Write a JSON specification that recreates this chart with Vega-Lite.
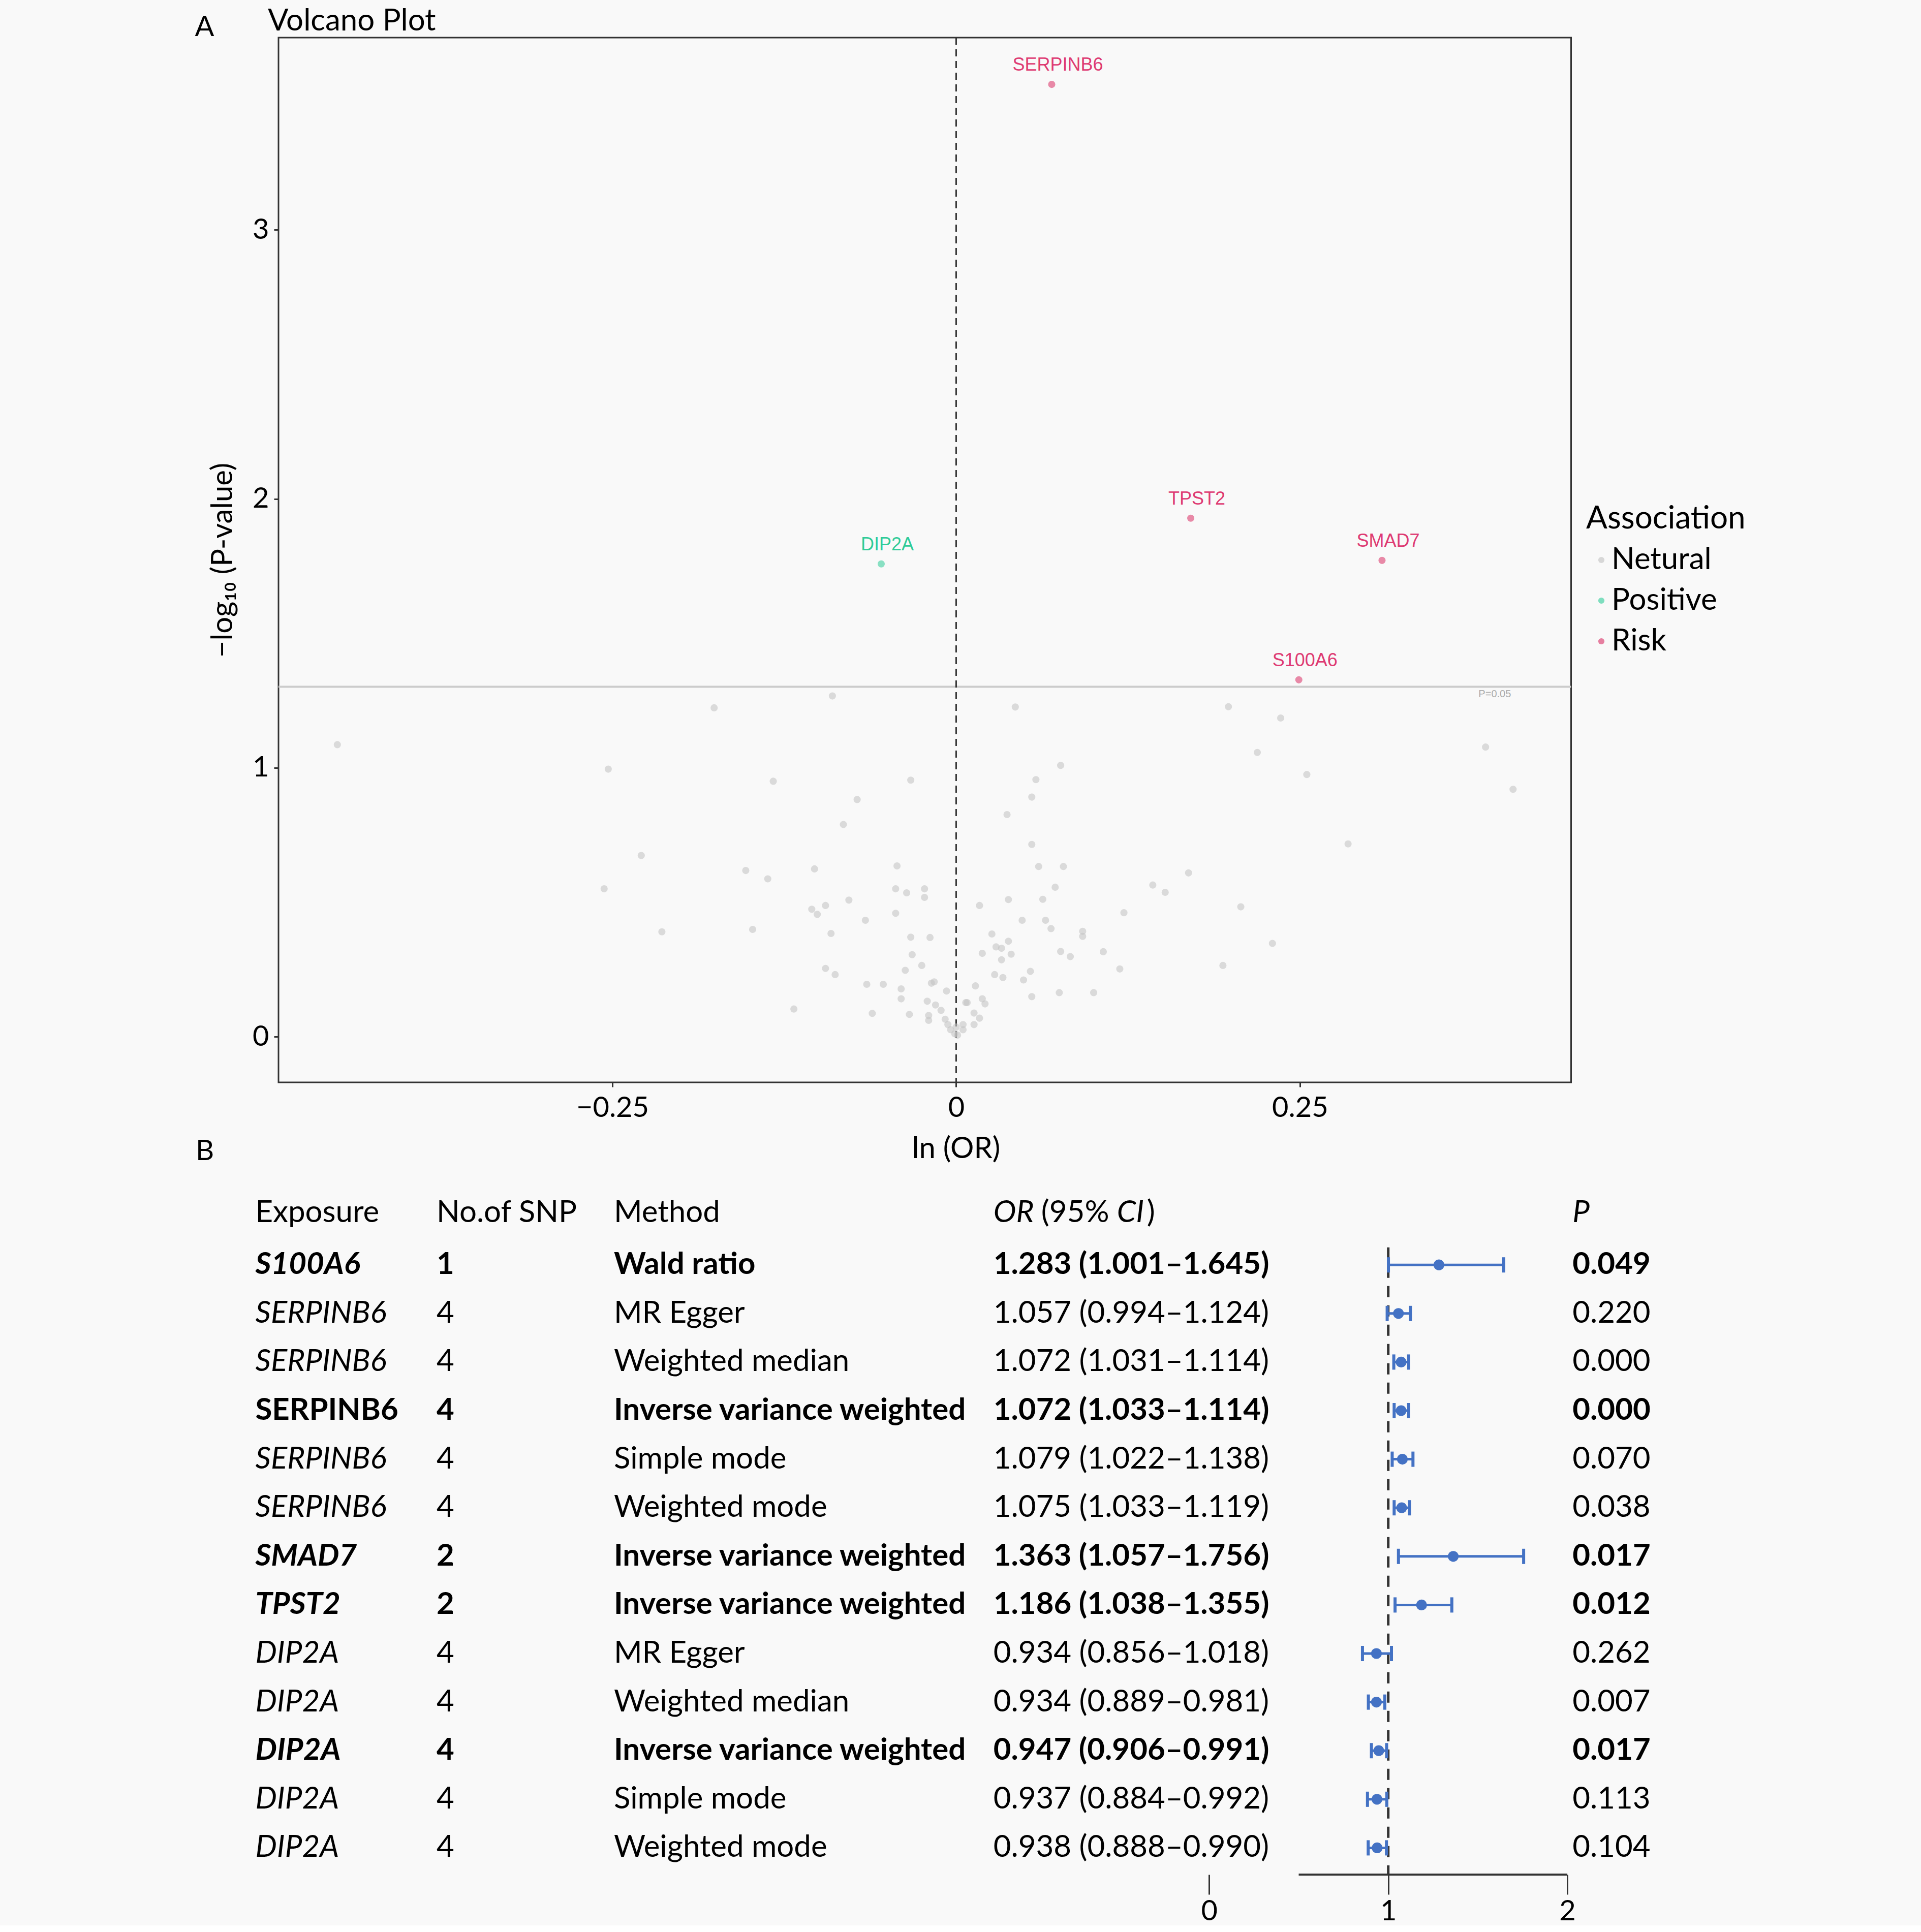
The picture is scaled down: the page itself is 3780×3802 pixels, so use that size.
{
  "$schema": "https://vega.github.io/schema/vega-lite/v6.json",
  "background": "#F9F9F9",
  "padding": {"left": 381, "top": 10, "right": 400, "bottom": 0},
  "bounds": "flush",
  "spacing": 171,
  "config": {"view": {"stroke": null}, "font": "Lato"},
  "datasets": {
    "volcano": [
      {"lnOR": -0.450, "nlogp": 1.086, "association": "Netural"},
      {"lnOR": -0.176, "nlogp": 1.223, "association": "Netural"},
      {"lnOR": -0.090, "nlogp": 1.267, "association": "Netural"},
      {"lnOR": -0.253, "nlogp": 0.995, "association": "Netural"},
      {"lnOR": -0.133, "nlogp": 0.950, "association": "Netural"},
      {"lnOR": -0.033, "nlogp": 0.954, "association": "Netural"},
      {"lnOR": -0.072, "nlogp": 0.882, "association": "Netural"},
      {"lnOR": -0.082, "nlogp": 0.789, "association": "Netural"},
      {"lnOR": -0.229, "nlogp": 0.674, "association": "Netural"},
      {"lnOR": -0.256, "nlogp": 0.550, "association": "Netural"},
      {"lnOR": -0.153, "nlogp": 0.618, "association": "Netural"},
      {"lnOR": -0.137, "nlogp": 0.587, "association": "Netural"},
      {"lnOR": -0.103, "nlogp": 0.624, "association": "Netural"},
      {"lnOR": -0.043, "nlogp": 0.635, "association": "Netural"},
      {"lnOR": -0.044, "nlogp": 0.550, "association": "Netural"},
      {"lnOR": -0.036, "nlogp": 0.535, "association": "Netural"},
      {"lnOR": -0.023, "nlogp": 0.550, "association": "Netural"},
      {"lnOR": -0.023, "nlogp": 0.518, "association": "Netural"},
      {"lnOR": -0.078, "nlogp": 0.508, "association": "Netural"},
      {"lnOR": -0.095, "nlogp": 0.488, "association": "Netural"},
      {"lnOR": -0.105, "nlogp": 0.474, "association": "Netural"},
      {"lnOR": -0.101, "nlogp": 0.455, "association": "Netural"},
      {"lnOR": -0.044, "nlogp": 0.459, "association": "Netural"},
      {"lnOR": -0.066, "nlogp": 0.433, "association": "Netural"},
      {"lnOR": -0.214, "nlogp": 0.390, "association": "Netural"},
      {"lnOR": -0.148, "nlogp": 0.399, "association": "Netural"},
      {"lnOR": -0.091, "nlogp": 0.384, "association": "Netural"},
      {"lnOR": -0.033, "nlogp": 0.370, "association": "Netural"},
      {"lnOR": -0.019, "nlogp": 0.369, "association": "Netural"},
      {"lnOR": -0.032, "nlogp": 0.305, "association": "Netural"},
      {"lnOR": -0.025, "nlogp": 0.265, "association": "Netural"},
      {"lnOR": -0.037, "nlogp": 0.247, "association": "Netural"},
      {"lnOR": -0.095, "nlogp": 0.254, "association": "Netural"},
      {"lnOR": -0.088, "nlogp": 0.231, "association": "Netural"},
      {"lnOR": -0.065, "nlogp": 0.195, "association": "Netural"},
      {"lnOR": -0.053, "nlogp": 0.195, "association": "Netural"},
      {"lnOR": -0.040, "nlogp": 0.178, "association": "Netural"},
      {"lnOR": -0.040, "nlogp": 0.141, "association": "Netural"},
      {"lnOR": -0.018, "nlogp": 0.199, "association": "Netural"},
      {"lnOR": -0.016, "nlogp": 0.204, "association": "Netural"},
      {"lnOR": -0.007, "nlogp": 0.170, "association": "Netural"},
      {"lnOR": -0.118, "nlogp": 0.103, "association": "Netural"},
      {"lnOR": -0.061, "nlogp": 0.087, "association": "Netural"},
      {"lnOR": -0.034, "nlogp": 0.083, "association": "Netural"},
      {"lnOR": -0.021, "nlogp": 0.132, "association": "Netural"},
      {"lnOR": -0.015, "nlogp": 0.118, "association": "Netural"},
      {"lnOR": -0.020, "nlogp": 0.079, "association": "Netural"},
      {"lnOR": -0.020, "nlogp": 0.061, "association": "Netural"},
      {"lnOR": -0.011, "nlogp": 0.098, "association": "Netural"},
      {"lnOR": -0.008, "nlogp": 0.065, "association": "Netural"},
      {"lnOR": -0.006, "nlogp": 0.045, "association": "Netural"},
      {"lnOR": -0.004, "nlogp": 0.026, "association": "Netural"},
      {"lnOR": 0.000, "nlogp": 0.036, "association": "Netural"},
      {"lnOR": -0.001, "nlogp": 0.011, "association": "Netural"},
      {"lnOR": 0.005, "nlogp": 0.045, "association": "Netural"},
      {"lnOR": 0.007, "nlogp": 0.127, "association": "Netural"},
      {"lnOR": 0.043, "nlogp": 1.226, "association": "Netural"},
      {"lnOR": 0.198, "nlogp": 1.227, "association": "Netural"},
      {"lnOR": 0.236, "nlogp": 1.185, "association": "Netural"},
      {"lnOR": 0.219, "nlogp": 1.057, "association": "Netural"},
      {"lnOR": 0.385, "nlogp": 1.077, "association": "Netural"},
      {"lnOR": 0.255, "nlogp": 0.975, "association": "Netural"},
      {"lnOR": 0.405, "nlogp": 0.920, "association": "Netural"},
      {"lnOR": 0.076, "nlogp": 1.009, "association": "Netural"},
      {"lnOR": 0.058, "nlogp": 0.956, "association": "Netural"},
      {"lnOR": 0.055, "nlogp": 0.891, "association": "Netural"},
      {"lnOR": 0.037, "nlogp": 0.826, "association": "Netural"},
      {"lnOR": 0.285, "nlogp": 0.717, "association": "Netural"},
      {"lnOR": 0.055, "nlogp": 0.715, "association": "Netural"},
      {"lnOR": 0.060, "nlogp": 0.633, "association": "Netural"},
      {"lnOR": 0.078, "nlogp": 0.633, "association": "Netural"},
      {"lnOR": 0.169, "nlogp": 0.609, "association": "Netural"},
      {"lnOR": 0.143, "nlogp": 0.564, "association": "Netural"},
      {"lnOR": 0.152, "nlogp": 0.537, "association": "Netural"},
      {"lnOR": 0.072, "nlogp": 0.556, "association": "Netural"},
      {"lnOR": 0.038, "nlogp": 0.510, "association": "Netural"},
      {"lnOR": 0.063, "nlogp": 0.511, "association": "Netural"},
      {"lnOR": 0.017, "nlogp": 0.488, "association": "Netural"},
      {"lnOR": 0.207, "nlogp": 0.483, "association": "Netural"},
      {"lnOR": 0.122, "nlogp": 0.461, "association": "Netural"},
      {"lnOR": 0.048, "nlogp": 0.433, "association": "Netural"},
      {"lnOR": 0.065, "nlogp": 0.433, "association": "Netural"},
      {"lnOR": 0.069, "nlogp": 0.402, "association": "Netural"},
      {"lnOR": 0.092, "nlogp": 0.392, "association": "Netural"},
      {"lnOR": 0.092, "nlogp": 0.373, "association": "Netural"},
      {"lnOR": 0.026, "nlogp": 0.382, "association": "Netural"},
      {"lnOR": 0.038, "nlogp": 0.355, "association": "Netural"},
      {"lnOR": 0.029, "nlogp": 0.334, "association": "Netural"},
      {"lnOR": 0.033, "nlogp": 0.329, "association": "Netural"},
      {"lnOR": 0.019, "nlogp": 0.310, "association": "Netural"},
      {"lnOR": 0.040, "nlogp": 0.307, "association": "Netural"},
      {"lnOR": 0.076, "nlogp": 0.317, "association": "Netural"},
      {"lnOR": 0.083, "nlogp": 0.298, "association": "Netural"},
      {"lnOR": 0.107, "nlogp": 0.316, "association": "Netural"},
      {"lnOR": 0.230, "nlogp": 0.347, "association": "Netural"},
      {"lnOR": 0.033, "nlogp": 0.286, "association": "Netural"},
      {"lnOR": 0.194, "nlogp": 0.265, "association": "Netural"},
      {"lnOR": 0.119, "nlogp": 0.252, "association": "Netural"},
      {"lnOR": 0.054, "nlogp": 0.243, "association": "Netural"},
      {"lnOR": 0.028, "nlogp": 0.231, "association": "Netural"},
      {"lnOR": 0.034, "nlogp": 0.220, "association": "Netural"},
      {"lnOR": 0.049, "nlogp": 0.211, "association": "Netural"},
      {"lnOR": 0.014, "nlogp": 0.189, "association": "Netural"},
      {"lnOR": 0.075, "nlogp": 0.164, "association": "Netural"},
      {"lnOR": 0.100, "nlogp": 0.164, "association": "Netural"},
      {"lnOR": 0.055, "nlogp": 0.149, "association": "Netural"},
      {"lnOR": 0.008, "nlogp": 0.127, "association": "Netural"},
      {"lnOR": 0.019, "nlogp": 0.141, "association": "Netural"},
      {"lnOR": 0.021, "nlogp": 0.122, "association": "Netural"},
      {"lnOR": 0.013, "nlogp": 0.088, "association": "Netural"},
      {"lnOR": 0.017, "nlogp": 0.069, "association": "Netural"},
      {"lnOR": 0.013, "nlogp": 0.045, "association": "Netural"},
      {"lnOR": 0.005, "nlogp": 0.026, "association": "Netural"},
      {"lnOR": 0.001, "nlogp": 0.006, "association": "Netural"},
      {"gene": "DIP2A", "lnOR": -0.0545, "nlogp": 1.758, "association": "Positive"},
      {"gene": "S100A6", "lnOR": 0.2492, "nlogp": 1.327, "association": "Risk"},
      {"gene": "SMAD7", "lnOR": 0.3097, "nlogp": 1.771, "association": "Risk"},
      {"gene": "TPST2", "lnOR": 0.1706, "nlogp": 1.928, "association": "Risk"},
      {"gene": "SERPINB6", "lnOR": 0.0695, "nlogp": 3.541, "association": "Risk"}
    ],
    "mr": [
      {"row": 1, "exposure": "S100A6", "nsnp": "1", "method": "Wald ratio", "or_ci": "1.283 (1.001–1.645)", "or": 1.283, "lo": 1.001, "hi": 1.645, "p": "0.049", "main": true},
      {"row": 2, "exposure": "SERPINB6", "nsnp": "4", "method": "MR Egger", "or_ci": "1.057 (0.994–1.124)", "or": 1.057, "lo": 0.994, "hi": 1.124, "p": "0.220", "main": false},
      {"row": 3, "exposure": "SERPINB6", "nsnp": "4", "method": "Weighted median", "or_ci": "1.072 (1.031–1.114)", "or": 1.072, "lo": 1.031, "hi": 1.114, "p": "0.000", "main": false},
      {"row": 4, "exposure": "SERPINB6", "nsnp": "4", "method": "Inverse variance weighted", "or_ci": "1.072 (1.033–1.114)", "or": 1.072, "lo": 1.033, "hi": 1.114, "p": "0.000", "main": true},
      {"row": 5, "exposure": "SERPINB6", "nsnp": "4", "method": "Simple mode", "or_ci": "1.079 (1.022–1.138)", "or": 1.079, "lo": 1.022, "hi": 1.138, "p": "0.070", "main": false},
      {"row": 6, "exposure": "SERPINB6", "nsnp": "4", "method": "Weighted mode", "or_ci": "1.075 (1.033–1.119)", "or": 1.075, "lo": 1.033, "hi": 1.119, "p": "0.038", "main": false},
      {"row": 7, "exposure": "SMAD7", "nsnp": "2", "method": "Inverse variance weighted", "or_ci": "1.363 (1.057–1.756)", "or": 1.363, "lo": 1.057, "hi": 1.756, "p": "0.017", "main": true},
      {"row": 8, "exposure": "TPST2", "nsnp": "2", "method": "Inverse variance weighted", "or_ci": "1.186 (1.038–1.355)", "or": 1.186, "lo": 1.038, "hi": 1.355, "p": "0.012", "main": true},
      {"row": 9, "exposure": "DIP2A", "nsnp": "4", "method": "MR Egger", "or_ci": "0.934 (0.856–1.018)", "or": 0.934, "lo": 0.856, "hi": 1.018, "p": "0.262", "main": false},
      {"row": 10, "exposure": "DIP2A", "nsnp": "4", "method": "Weighted median", "or_ci": "0.934 (0.889–0.981)", "or": 0.934, "lo": 0.889, "hi": 0.981, "p": "0.007", "main": false},
      {"row": 11, "exposure": "DIP2A", "nsnp": "4", "method": "Inverse variance weighted", "or_ci": "0.947 (0.906–0.991)", "or": 0.947, "lo": 0.906, "hi": 0.991, "p": "0.017", "main": true},
      {"row": 12, "exposure": "DIP2A", "nsnp": "4", "method": "Simple mode", "or_ci": "0.937 (0.884–0.992)", "or": 0.937, "lo": 0.884, "hi": 0.992, "p": "0.113", "main": false},
      {"row": 13, "exposure": "DIP2A", "nsnp": "4", "method": "Weighted mode", "or_ci": "0.938 (0.888–0.990)", "or": 0.938, "lo": 0.888, "hi": 0.990, "p": "0.104", "main": false}
    ]
  },
  "vconcat": [
    {
      "width": 2543.5,
      "height": 2056,
      "title": {"text": "Volcano Plot", "anchor": "start", "frame": "group", "font": "Lato", "fontSize": 60, "fontWeight": "normal", "color": "#000000", "offset": -47, "dx": -21},
      "view": {"stroke": "#333333", "strokeWidth": 3, "fill": "#F9F9F9"},
      "layer": [
        {
          "data": {"values": [{"threshold": 1.30103}]},
          "mark": {"type": "rule", "color": "#CCCCCC", "strokeWidth": 4},
          "encoding": {
            "y": {"field": "threshold", "type": "quantitative", "scale": {"domain": [-0.1697, 3.715], "nice": false, "zero": false}, "title": "−log₁₀ (P-value)"}
          }
        },
        {
          "data": {"values": [{"zero": 0}]},
          "mark": {"type": "rule", "color": "#333333", "strokeWidth": 3, "strokeDash": [14, 9]},
          "encoding": {
            "x": {"field": "zero", "type": "quantitative", "scale": {"domain": [-0.4928, 0.4472], "nice": false, "zero": false}, "title": "ln (OR)"}
          }
        },
        {
          "data": {"name": "volcano"},
          "mark": {"type": "circle", "size": 200, "opacity": 0.6},
          "encoding": {
            "x": {"field": "lnOR", "type": "quantitative", "scale": {"domain": [-0.4928, 0.4472], "nice": false, "zero": false},
              "title": "ln (OR)",
              "axis": {"values": [-0.25, 0, 0.25], "format": ".2~f", "domain": false, "grid": false, "tickSize": 9, "tickWidth": 3, "tickColor": "#333333", "labelFont": "Lato", "labelFontSize": 56, "labelColor": "#000000", "labelPadding": 14, "titleFont": "Lato", "titleFontSize": 58, "titleFontWeight": "normal", "titleColor": "#000000", "titlePadding": 24, "titleX": 1333}},
            "y": {"field": "nlogp", "type": "quantitative", "scale": {"domain": [-0.1697, 3.715], "nice": false, "zero": false},
              "title": "−log₁₀ (P-value)",
              "axis": {"values": [0, 1, 2, 3], "format": "d", "domain": false, "grid": false, "tickSize": 9, "tickWidth": 3, "tickColor": "#333333", "labelFont": "Lato", "labelFontSize": 56, "labelColor": "#000000", "labelPadding": 10, "titleFont": "Lato", "titleFontSize": 58, "titleFontWeight": "normal", "titleColor": "#000000", "titlePadding": 28}},
            "color": {"field": "association", "type": "nominal",
              "scale": {"domain": ["Netural", "Positive", "Risk"], "range": ["#C4C4C4", "#3ECF9F", "#DC3D70"]},
              "legend": {"title": "Association", "orient": "none", "legendX": 2573, "legendY": 917, "titleFont": "Lato", "titleFontSize": 62, "titleFontWeight": "normal", "titleColor": "#000000", "titleLimit": 800, "labelLimit": 800, "labelFont": "Lato", "labelFontSize": 60, "labelColor": "#000000", "symbolType": "circle", "symbolSize": 150, "symbolStrokeWidth": 0, "symbolOpacity": 0.65, "rowPadding": 20, "titlePadding": 19, "labelOffset": -10}}
          }
        },
        {
          "data": {"name": "volcano"},
          "transform": [{"filter": "isValid(datum.gene)"}],
          "mark": {"type": "text", "font": "Liberation Sans", "fontSize": 36, "dy": -38, "dx": 12, "align": "center", "baseline": "middle"},
          "encoding": {
            "x": {"field": "lnOR", "type": "quantitative", "title": "ln (OR)"},
            "y": {"field": "nlogp", "type": "quantitative", "title": "−log₁₀ (P-value)"},
            "text": {"field": "gene"},
            "fill": {"field": "association", "type": "nominal", "scale": {"domain": ["Netural", "Positive", "Risk"], "range": ["#999999", "#2FCB98", "#DE3A72"]}, "legend": null}
          }
        },
        {
          "data": {"values": [{"label": "P=0.05"}]},
          "mark": {"type": "text", "font": "Liberation Sans", "fontSize": 20, "color": "#AAAAAA", "align": "center", "baseline": "middle"},
          "encoding": {
            "x": {"datum": 0.3917, "type": "quantitative", "title": "ln (OR)"},
            "y": {"datum": 1.273, "type": "quantitative", "title": "−log₁₀ (P-value)"},
            "text": {"field": "label"}
          }
        },
        {
          "data": {"values": [{"label": "A"}]},
          "mark": {"type": "text", "font": "Lato", "fontSize": 56, "color": "#000000", "align": "center", "baseline": "middle"},
          "encoding": {
            "x": {"datum": -0.5466, "type": "quantitative", "title": "ln (OR)"},
            "y": {"datum": 3.752, "type": "quantitative", "title": "−log₁₀ (P-value)"},
            "text": {"field": "label"}
          }
        }
      ]
    },
    {
      "width": 2755,
      "height": 1388,
      "layer": [
        {
          "data": {"values": [{"ref": 1}]},
          "mark": {"type": "rule", "color": "#333333", "strokeWidth": 5, "strokeDash": [22, 16]},
          "encoding": {
            "x": {"field": "ref", "type": "quantitative", "scale": {"domain": [-5.1966, 2.6212], "nice": false, "zero": false}, "title": null},
            "y": {"datum": 0.64, "type": "quantitative", "scale": {"domain": [-0.9686, 13.5502], "reverse": true, "nice": false, "zero": false}, "axis": null},
            "y2": {"datum": 13.5502}
          }
        },
        {
          "data": {"values": [{"from": 0.5, "to": 2}]},
          "mark": {"type": "rule", "color": "#333333", "strokeWidth": 4},
          "encoding": {
            "x": {"field": "from", "type": "quantitative", "title": null},
            "x2": {"field": "to"},
            "y": {"datum": 13.5502, "type": "quantitative", "axis": null}
          }
        },
        {
          "data": {"name": "mr"},
          "mark": {"type": "rule", "color": "#4472C4", "strokeWidth": 5},
          "encoding": {
            "x": {"field": "lo", "type": "quantitative", "title": null},
            "x2": {"field": "hi"},
            "y": {"field": "row", "type": "quantitative", "axis": null}
          }
        },
        {
          "data": {"name": "mr"},
          "mark": {"type": "tick", "orient": "vertical", "thickness": 6, "size": 30, "color": "#4472C4", "opacity": 1},
          "encoding": {
            "x": {"field": "lo", "type": "quantitative", "title": null},
            "y": {"field": "row", "type": "quantitative", "axis": null}
          }
        },
        {
          "data": {"name": "mr"},
          "mark": {"type": "tick", "orient": "vertical", "thickness": 6, "size": 30, "color": "#4472C4", "opacity": 1},
          "encoding": {
            "x": {"field": "hi", "type": "quantitative", "title": null},
            "y": {"field": "row", "type": "quantitative", "axis": null}
          }
        },
        {
          "data": {"name": "mr"},
          "mark": {"type": "circle", "size": 450, "color": "#4472C4", "opacity": 1},
          "encoding": {
            "x": {"field": "or", "type": "quantitative", "scale": {"domain": [-5.1966, 2.6212], "nice": false, "zero": false}, "title": null,
              "axis": {"values": [0, 1, 2], "format": "d", "domain": false, "grid": false, "ticks": true, "tickSize": 39, "tickWidth": 3, "tickColor": "#333333", "labelFont": "Lato", "labelFontSize": 56, "labelColor": "#000000", "labelPadding": 6}},
            "y": {"field": "row", "type": "quantitative", "axis": null}
          }
        },
        {
          "data": {"name": "mr"},
          "transform": [{"filter": "datum.main && datum.row != 4"}],
          "mark": {"type": "text", "align": "left", "baseline": "middle", "font": "Lato", "fontSize": 60, "color": "#000000", "fontWeight": "bold", "fontStyle": "italic"},
          "encoding": {"x": {"datum": -5.326, "type": "quantitative", "title": null}, "y": {"field": "row", "type": "quantitative", "axis": null}, "text": {"field": "exposure"}}
        },
        {
          "data": {"name": "mr"},
          "transform": [{"filter": "datum.row == 4"}],
          "mark": {"type": "text", "align": "left", "baseline": "middle", "font": "Lato", "fontSize": 60, "color": "#000000", "fontWeight": "bold"},
          "encoding": {"x": {"datum": -5.326, "type": "quantitative", "title": null}, "y": {"field": "row", "type": "quantitative", "axis": null}, "text": {"field": "exposure"}}
        },
        {
          "data": {"name": "mr"},
          "transform": [{"filter": "!datum.main"}],
          "mark": {"type": "text", "align": "left", "baseline": "middle", "font": "Lato", "fontSize": 60, "color": "#000000", "fontStyle": "italic"},
          "encoding": {"x": {"datum": -5.326, "type": "quantitative", "title": null}, "y": {"field": "row", "type": "quantitative", "axis": null}, "text": {"field": "exposure"}}
        },
        {
          "data": {"name": "mr"},
          "transform": [{"filter": "datum.main"}],
          "mark": {"type": "text", "align": "left", "baseline": "middle", "font": "Lato", "fontSize": 60, "color": "#000000", "fontWeight": "bold"},
          "encoding": {"x": {"datum": -4.314, "type": "quantitative", "title": null}, "y": {"field": "row", "type": "quantitative", "axis": null}, "text": {"field": "nsnp"}}
        },
        {
          "data": {"name": "mr"},
          "transform": [{"filter": "!datum.main"}],
          "mark": {"type": "text", "align": "left", "baseline": "middle", "font": "Lato", "fontSize": 60, "color": "#000000"},
          "encoding": {"x": {"datum": -4.314, "type": "quantitative", "title": null}, "y": {"field": "row", "type": "quantitative", "axis": null}, "text": {"field": "nsnp"}}
        },
        {
          "data": {"name": "mr"},
          "transform": [{"filter": "datum.main"}],
          "mark": {"type": "text", "align": "left", "baseline": "middle", "font": "Lato", "fontSize": 60, "color": "#000000", "fontWeight": "bold"},
          "encoding": {"x": {"datum": -3.324, "type": "quantitative", "title": null}, "y": {"field": "row", "type": "quantitative", "axis": null}, "text": {"field": "method"}}
        },
        {
          "data": {"name": "mr"},
          "transform": [{"filter": "!datum.main"}],
          "mark": {"type": "text", "align": "left", "baseline": "middle", "font": "Lato", "fontSize": 60, "color": "#000000"},
          "encoding": {"x": {"datum": -3.324, "type": "quantitative", "title": null}, "y": {"field": "row", "type": "quantitative", "axis": null}, "text": {"field": "method"}}
        },
        {
          "data": {"name": "mr"},
          "transform": [{"filter": "datum.main"}],
          "mark": {"type": "text", "align": "left", "baseline": "middle", "font": "Lato", "fontSize": 60, "color": "#000000", "fontWeight": "bold"},
          "encoding": {"x": {"datum": -1.2046, "type": "quantitative", "title": null}, "y": {"field": "row", "type": "quantitative", "axis": null}, "text": {"field": "or_ci"}}
        },
        {
          "data": {"name": "mr"},
          "transform": [{"filter": "!datum.main"}],
          "mark": {"type": "text", "align": "left", "baseline": "middle", "font": "Lato", "fontSize": 60, "color": "#000000"},
          "encoding": {"x": {"datum": -1.2046, "type": "quantitative", "title": null}, "y": {"field": "row", "type": "quantitative", "axis": null}, "text": {"field": "or_ci"}}
        },
        {
          "data": {"name": "mr"},
          "transform": [{"filter": "datum.main"}],
          "mark": {"type": "text", "align": "left", "baseline": "middle", "font": "Lato", "fontSize": 60, "color": "#000000", "fontWeight": "bold"},
          "encoding": {"x": {"datum": 2.029, "type": "quantitative", "title": null}, "y": {"field": "row", "type": "quantitative", "axis": null}, "text": {"field": "p"}}
        },
        {
          "data": {"name": "mr"},
          "transform": [{"filter": "!datum.main"}],
          "mark": {"type": "text", "align": "left", "baseline": "middle", "font": "Lato", "fontSize": 60, "color": "#000000"},
          "encoding": {"x": {"datum": 2.029, "type": "quantitative", "title": null}, "y": {"field": "row", "type": "quantitative", "axis": null}, "text": {"field": "p"}}
        },
        {
          "data": {"values": [{"label": "Exposure"}]},
          "mark": {"type": "text", "align": "left", "baseline": "middle", "font": "Lato", "fontSize": 60, "color": "#000000"},
          "encoding": {"x": {"datum": -5.326, "type": "quantitative", "title": null}, "y": {"datum": -0.07, "type": "quantitative", "axis": null}, "text": {"field": "label"}}
        },
        {
          "data": {"values": [{"label": "No.of SNP"}]},
          "mark": {"type": "text", "align": "left", "baseline": "middle", "font": "Lato", "fontSize": 60, "color": "#000000"},
          "encoding": {"x": {"datum": -4.314, "type": "quantitative", "title": null}, "y": {"datum": -0.07, "type": "quantitative", "axis": null}, "text": {"field": "label"}}
        },
        {
          "data": {"values": [{"label": "Method"}]},
          "mark": {"type": "text", "align": "left", "baseline": "middle", "font": "Lato", "fontSize": 60, "color": "#000000"},
          "encoding": {"x": {"datum": -3.324, "type": "quantitative", "title": null}, "y": {"datum": -0.07, "type": "quantitative", "axis": null}, "text": {"field": "label"}}
        },
        {
          "data": {"values": [{"label": "OR"}]},
          "mark": {"type": "text", "align": "left", "baseline": "middle", "font": "Lato", "fontSize": 60, "color": "#000000", "fontStyle": "italic"},
          "encoding": {"x": {"datum": -1.2046, "type": "quantitative", "title": null}, "y": {"datum": -0.07, "type": "quantitative", "axis": null}, "text": {"field": "label"}}
        },
        {
          "data": {"values": [{"label": "(95%"}]},
          "mark": {"type": "text", "align": "left", "baseline": "middle", "font": "Lato", "fontSize": 60, "color": "#000000", "dx": 94},
          "encoding": {"x": {"datum": -1.2046, "type": "quantitative", "title": null}, "y": {"datum": -0.07, "type": "quantitative", "axis": null}, "text": {"field": "label"}}
        },
        {
          "data": {"values": [{"label": "CI"}]},
          "mark": {"type": "text", "align": "left", "baseline": "middle", "font": "Lato", "fontSize": 60, "color": "#000000", "fontStyle": "italic", "dx": 243},
          "encoding": {"x": {"datum": -1.2046, "type": "quantitative", "title": null}, "y": {"datum": -0.07, "type": "quantitative", "axis": null}, "text": {"field": "label"}}
        },
        {
          "data": {"values": [{"label": ")"}]},
          "mark": {"type": "text", "align": "left", "baseline": "middle", "font": "Lato", "fontSize": 60, "color": "#000000", "dx": 302},
          "encoding": {"x": {"datum": -1.2046, "type": "quantitative", "title": null}, "y": {"datum": -0.07, "type": "quantitative", "axis": null}, "text": {"field": "label"}}
        },
        {
          "data": {"values": [{"label": "P"}]},
          "mark": {"type": "text", "align": "left", "baseline": "middle", "font": "Lato", "fontSize": 60, "color": "#000000", "fontStyle": "italic"},
          "encoding": {"x": {"datum": 2.029, "type": "quantitative", "title": null}, "y": {"datum": -0.07, "type": "quantitative", "axis": null}, "text": {"field": "label"}}
        },
        {
          "data": {"values": [{"label": "B"}]},
          "mark": {"type": "text", "align": "center", "baseline": "middle", "font": "Lato", "fontSize": 56, "color": "#000000"},
          "encoding": {"x": {"datum": -5.608, "type": "quantitative", "title": null}, "y": {"datum": -1.335, "type": "quantitative", "axis": null}, "text": {"field": "label"}}
        }
      ]
    }
  ]
}
